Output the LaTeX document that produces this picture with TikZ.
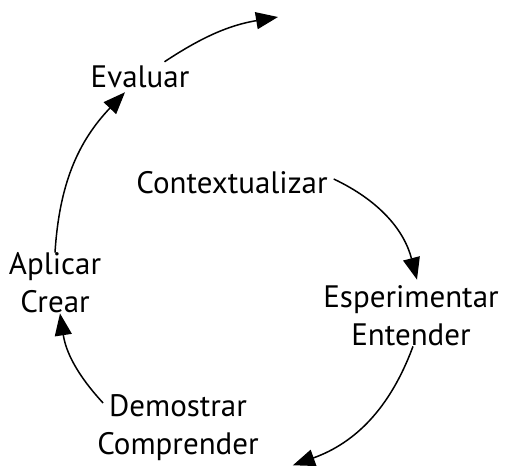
\documentclass[tikz,border=0pt]{standalone}
\usepackage{fontspec}
\setmainfont{PT Sans}
\usetikzlibrary{arrows.meta}

\begin{document}
\begin{tikzpicture}[x=1pt,y=-1pt,
    fase/.style={align=center,inner sep=2pt,font=\fontsize{31}{38}\selectfont},
    ciclo/.style={line width=1.5pt,-{Triangle[length=22pt,width=17pt]}}]
    \useasboundingbox (0,0) rectangle (507,466);

    % the five stages around the loop
    \node[fase] (ctx) at (232,183) {Contextualizar};
    \node[fase] (esp) at (411,316) {Esperimentar\\Entender};
    \node[fase] (dem) at (178,428) {Demostrar\\Comprender};
    \node[fase] (apl) at (55,283) {Aplicar\\Crear};
    \node[fase] (eva) at (140,77) {Evaluar};
    \coordinate (fin) at (278,17);

    % arrows, each one bent the same way
    \draw[ciclo] ([xshift=4pt,yshift=4pt]ctx.east) to[bend left=25] ([xshift=6pt,yshift=4pt]esp.north);
    \draw[ciclo] ([xshift=2pt,yshift=2pt]esp.south) to[bend left=25] ([xshift=32pt,yshift=-2pt]dem.south east);
    \draw[ciclo] ([xshift=8pt,yshift=25pt]dem.west) to[bend left=17] ([xshift=5pt,yshift=2pt]apl.south);
    \draw[ciclo] ([yshift=-2pt]apl.north) to[bend left=20] ([xshift=-15pt,yshift=-2pt]eva.south);
    \draw[ciclo] ([xshift=-27pt,yshift=2pt]eva.north east) to[bend left=12] (fin);
\end{tikzpicture}
\end{document}
